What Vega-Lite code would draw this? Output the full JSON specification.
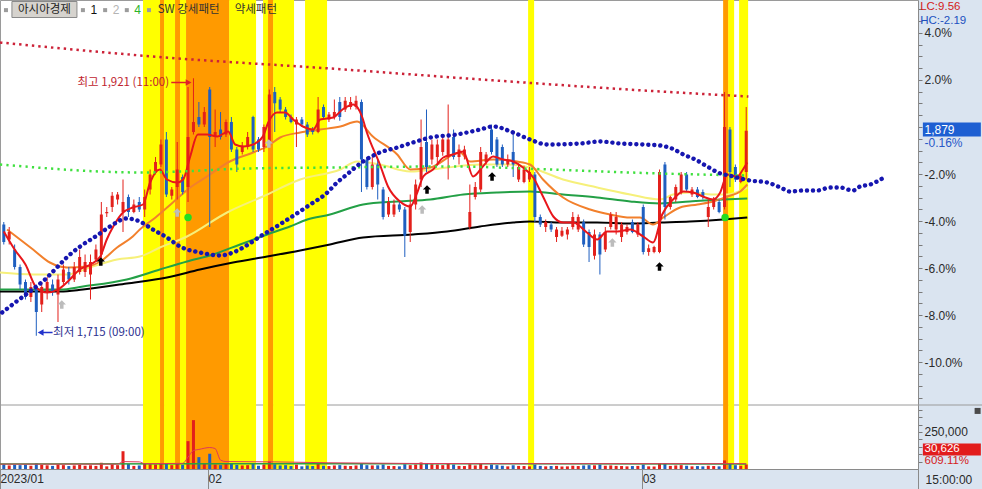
{
"$schema": "https://vega.github.io/schema/vega-lite/v6.json",
"autosize": {"type": "none"},
"width": 918, "height": 469,
"padding": {"left": 0, "top": 0, "right": 64, "bottom": 20},
"background": "#dae4f0",
"config": {"view": {"fill": "#ffffff", "stroke": "#9a9a9a", "strokeWidth": 1}},
"resolve": {"scale": {"y": "independent"}, "axis": {"x": "independent", "y": "independent"}},
"datasets": {
"candles": [
{"i":0,"o":1804,"h":1806,"l":1788,"c":1790,"v":32000},
{"i":1,"o":1792,"h":1802,"l":1788,"c":1798,"v":24000},
{"i":2,"o":1784,"h":1788,"l":1768,"c":1770,"v":28000},
{"i":3,"o":1770,"h":1772,"l":1752,"c":1756,"v":26000},
{"i":4,"o":1758,"h":1760,"l":1744,"c":1746,"v":30000},
{"i":5,"o":1746,"h":1758,"l":1742,"c":1754,"v":22000},
{"i":6,"o":1754,"h":1756,"l":1715,"c":1734,"v":38000},
{"i":7,"o":1740,"h":1758,"l":1734,"c":1754,"v":27000},
{"i":8,"o":1750,"h":1762,"l":1744,"c":1758,"v":25000},
{"i":9,"o":1756,"h":1760,"l":1747,"c":1750,"v":21000},
{"i":10,"o":1748,"h":1764,"l":1726,"c":1760,"v":31000},
{"i":11,"o":1758,"h":1772,"l":1756,"c":1768,"v":26000},
{"i":12,"o":1766,"h":1770,"l":1756,"c":1760,"v":20000},
{"i":13,"o":1760,"h":1774,"l":1758,"c":1770,"v":24000},
{"i":14,"o":1766,"h":1784,"l":1764,"c":1778,"v":28000},
{"i":15,"o":1766,"h":1780,"l":1762,"c":1774,"v":22000},
{"i":16,"o":1764,"h":1780,"l":1744,"c":1774,"v":25000},
{"i":17,"o":1776,"h":1788,"l":1774,"c":1784,"v":21000},
{"i":18,"o":1780,"h":1822,"l":1776,"c":1812,"v":42000},
{"i":19,"o":1813,"h":1818,"l":1810,"c":1814,"v":18000},
{"i":20,"o":1818,"h":1830,"l":1814,"c":1827,"v":32000},
{"i":21,"o":1824,"h":1830,"l":1820,"c":1828,"v":26000},
{"i":22,"o":1814,"h":1840,"l":1798,"c":1822,"v":120000},
{"i":23,"o":1826,"h":1828,"l":1810,"c":1814,"v":34000},
{"i":24,"o":1814,"h":1824,"l":1813,"c":1820,"v":21000},
{"i":25,"o":1822,"h":1826,"l":1814,"c":1816,"v":24000},
{"i":26,"o":1816,"h":1832,"l":1810,"c":1826,"v":38000},
{"i":27,"o":1832,"h":1848,"l":1828,"c":1844,"v":32000},
{"i":28,"o":1846,"h":1858,"l":1844,"c":1854,"v":30000},
{"i":29,"o":1852,"h":1872,"l":1850,"c":1868,"v":40000},
{"i":30,"o":1872,"h":1878,"l":1826,"c":1828,"v":36000},
{"i":31,"o":1827,"h":1834,"l":1824,"c":1832,"v":26000},
{"i":32,"o":1834,"h":1870,"l":1824,"c":1848,"v":34000},
{"i":33,"o":1842,"h":1844,"l":1828,"c":1830,"v":28000},
{"i":34,"o":1834,"h":1914,"l":1822,"c":1874,"v":188000},
{"i":35,"o":1878,"h":1921,"l":1876,"c":1886,"v":330000},
{"i":36,"o":1890,"h":1902,"l":1882,"c":1884,"v":80000},
{"i":37,"o":1884,"h":1898,"l":1882,"c":1894,"v":40000},
{"i":38,"o":1912,"h":1914,"l":1802,"c":1874,"v":103000},
{"i":39,"o":1874,"h":1896,"l":1866,"c":1878,"v":30000},
{"i":40,"o":1880,"h":1894,"l":1872,"c":1874,"v":26000},
{"i":41,"o":1876,"h":1888,"l":1874,"c":1886,"v":36000},
{"i":42,"o":1886,"h":1890,"l":1862,"c":1864,"v":34000},
{"i":43,"o":1864,"h":1866,"l":1846,"c":1852,"v":28000},
{"i":44,"o":1862,"h":1870,"l":1860,"c":1867,"v":24000},
{"i":45,"o":1866,"h":1878,"l":1864,"c":1874,"v":26000},
{"i":46,"o":1890,"h":1891,"l":1862,"c":1864,"v":36000},
{"i":47,"o":1872,"h":1874,"l":1862,"c":1864,"v":22000},
{"i":48,"o":1866,"h":1884,"l":1862,"c":1882,"v":30000},
{"i":49,"o":1870,"h":1912,"l":1868,"c":1908,"v":50000},
{"i":50,"o":1910,"h":1914,"l":1878,"c":1901,"v":32000},
{"i":51,"o":1904,"h":1906,"l":1894,"c":1896,"v":24000},
{"i":52,"o":1896,"h":1898,"l":1888,"c":1890,"v":26000},
{"i":53,"o":1890,"h":1892,"l":1885,"c":1886,"v":20000},
{"i":54,"o":1884,"h":1890,"l":1866,"c":1888,"v":30000},
{"i":55,"o":1888,"h":1890,"l":1882,"c":1884,"v":18000},
{"i":56,"o":1884,"h":1886,"l":1874,"c":1876,"v":24000},
{"i":57,"o":1880,"h":1882,"l":1876,"c":1878,"v":20000},
{"i":58,"o":1878,"h":1906,"l":1877,"c":1896,"v":34000},
{"i":59,"o":1898,"h":1900,"l":1889,"c":1890,"v":22000},
{"i":60,"o":1888,"h":1894,"l":1886,"c":1892,"v":20000},
{"i":61,"o":1890,"h":1904,"l":1888,"c":1894,"v":24000},
{"i":62,"o":1902,"h":1906,"l":1887,"c":1890,"v":26000},
{"i":63,"o":1896,"h":1906,"l":1894,"c":1903,"v":22000},
{"i":64,"o":1898,"h":1906,"l":1896,"c":1902,"v":20000},
{"i":65,"o":1898,"h":1907,"l":1896,"c":1903,"v":24000},
{"i":66,"o":1902,"h":1904,"l":1830,"c":1856,"v":40000},
{"i":67,"o":1856,"h":1858,"l":1832,"c":1834,"v":26000},
{"i":68,"o":1834,"h":1858,"l":1832,"c":1852,"v":24000},
{"i":69,"o":1852,"h":1856,"l":1824,"c":1836,"v":25000},
{"i":70,"o":1832,"h":1834,"l":1808,"c":1810,"v":30000},
{"i":71,"o":1812,"h":1826,"l":1810,"c":1822,"v":21000},
{"i":72,"o":1812,"h":1824,"l":1810,"c":1820,"v":20000},
{"i":73,"o":1820,"h":1822,"l":1814,"c":1816,"v":18000},
{"i":74,"o":1816,"h":1818,"l":1778,"c":1795,"v":32000},
{"i":75,"o":1798,"h":1828,"l":1790,"c":1820,"v":26000},
{"i":76,"o":1820,"h":1840,"l":1816,"c":1836,"v":30000},
{"i":77,"o":1840,"h":1888,"l":1834,"c":1866,"v":44000},
{"i":78,"o":1870,"h":1896,"l":1846,"c":1850,"v":38000},
{"i":79,"o":1856,"h":1872,"l":1852,"c":1868,"v":32000},
{"i":80,"o":1858,"h":1872,"l":1852,"c":1868,"v":30000},
{"i":81,"o":1862,"h":1876,"l":1859,"c":1872,"v":26000},
{"i":82,"o":1858,"h":1900,"l":1840,"c":1872,"v":36000},
{"i":83,"o":1874,"h":1880,"l":1856,"c":1858,"v":30000},
{"i":84,"o":1858,"h":1868,"l":1852,"c":1864,"v":21000},
{"i":85,"o":1860,"h":1867,"l":1856,"c":1864,"v":20000},
{"i":86,"o":1802,"h":1836,"l":1800,"c":1814,"v":32000},
{"i":87,"o":1826,"h":1838,"l":1824,"c":1834,"v":24000},
{"i":88,"o":1832,"h":1866,"l":1830,"c":1862,"v":38000},
{"i":89,"o":1854,"h":1862,"l":1852,"c":1860,"v":21000},
{"i":90,"o":1880,"h":1884,"l":1860,"c":1862,"v":30000},
{"i":91,"o":1872,"h":1874,"l":1850,"c":1852,"v":26000},
{"i":92,"o":1866,"h":1868,"l":1850,"c":1852,"v":22000},
{"i":93,"o":1852,"h":1860,"l":1850,"c":1856,"v":18000},
{"i":94,"o":1862,"h":1876,"l":1842,"c":1852,"v":25000},
{"i":95,"o":1840,"h":1852,"l":1838,"c":1850,"v":21000},
{"i":96,"o":1838,"h":1851,"l":1837,"c":1848,"v":20000},
{"i":97,"o":1840,"h":1850,"l":1838,"c":1846,"v":18000},
{"i":98,"o":1844,"h":1846,"l":1806,"c":1810,"v":30000},
{"i":99,"o":1810,"h":1812,"l":1802,"c":1804,"v":21000},
{"i":100,"o":1802,"h":1808,"l":1798,"c":1806,"v":18000},
{"i":101,"o":1804,"h":1806,"l":1798,"c":1800,"v":20000},
{"i":102,"o":1794,"h":1802,"l":1790,"c":1800,"v":21000},
{"i":103,"o":1795,"h":1802,"l":1794,"c":1799,"v":17000},
{"i":104,"o":1796,"h":1802,"l":1792,"c":1800,"v":18000},
{"i":105,"o":1802,"h":1814,"l":1800,"c":1810,"v":22000},
{"i":106,"o":1800,"h":1812,"l":1798,"c":1810,"v":20000},
{"i":107,"o":1806,"h":1808,"l":1786,"c":1788,"v":24000},
{"i":108,"o":1798,"h":1800,"l":1774,"c":1786,"v":26000},
{"i":109,"o":1779,"h":1800,"l":1776,"c":1796,"v":25000},
{"i":110,"o":1796,"h":1798,"l":1764,"c":1780,"v":30000},
{"i":111,"o":1784,"h":1802,"l":1782,"c":1798,"v":22000},
{"i":112,"o":1802,"h":1814,"l":1800,"c":1812,"v":24000},
{"i":113,"o":1800,"h":1814,"l":1796,"c":1810,"v":21000},
{"i":114,"o":1794,"h":1806,"l":1790,"c":1804,"v":20000},
{"i":115,"o":1798,"h":1804,"l":1796,"c":1802,"v":18000},
{"i":116,"o":1806,"h":1808,"l":1797,"c":1798,"v":20000},
{"i":117,"o":1796,"h":1806,"l":1794,"c":1804,"v":21000},
{"i":118,"o":1818,"h":1820,"l":1780,"c":1782,"v":30000},
{"i":119,"o":1782,"h":1788,"l":1779,"c":1785,"v":18000},
{"i":120,"o":1782,"h":1787,"l":1781,"c":1786,"v":17000},
{"i":121,"o":1782,"h":1848,"l":1781,"c":1846,"v":40000},
{"i":122,"o":1852,"h":1854,"l":1808,"c":1818,"v":36000},
{"i":123,"o":1818,"h":1827,"l":1816,"c":1826,"v":21000},
{"i":124,"o":1824,"h":1836,"l":1822,"c":1834,"v":24000},
{"i":125,"o":1830,"h":1846,"l":1828,"c":1844,"v":26000},
{"i":126,"o":1844,"h":1846,"l":1830,"c":1832,"v":22000},
{"i":127,"o":1828,"h":1834,"l":1826,"c":1832,"v":18000},
{"i":128,"o":1832,"h":1834,"l":1825,"c":1826,"v":20000},
{"i":129,"o":1830,"h":1832,"l":1824,"c":1826,"v":18000},
{"i":130,"o":1810,"h":1824,"l":1802,"c":1818,"v":22000},
{"i":131,"o":1818,"h":1826,"l":1816,"c":1824,"v":20000},
{"i":132,"o":1822,"h":1824,"l":1813,"c":1814,"v":18000},
{"i":133,"o":1818,"h":1910,"l":1816,"c":1882,"v":58000},
{"i":134,"o":1880,"h":1882,"l":1834,"c":1846,"v":40000},
{"i":135,"o":1850,"h":1852,"l":1838,"c":1840,"v":26000},
{"i":136,"o":1838,"h":1845,"l":1837,"c":1843,"v":22000},
{"i":137,"o":1846,"h":1898,"l":1840,"c":1879,"v":30626}
],
"bands": [
{"a":25.69,"b":28.83,"k":"강세"},{"a":28.83,"b":29.57,"k":"약세"},{"a":29.57,"b":31.6,"k":"강세"},{"a":31.6,"b":32.52,"k":"약세"},{"a":32.52,"b":33.63,"k":"강세"},{"a":33.63,"b":41.57,"k":"약세"},{"a":41.57,"b":46.55,"k":"강세"},{"a":47.84,"b":48.76,"k":"강세"},{"a":48.76,"b":49.69,"k":"약세"},{"a":49.69,"b":53.56,"k":"강세"},{"a":55.59,"b":59.65,"k":"강세"},{"a":96.75,"b":97.86,"k":"강세"},{"a":132.74,"b":133.66,"k":"약세"},{"a":133.66,"b":134.77,"k":"강세"},{"a":135.69,"b":137.35,"k":"강세"}
],
"lines": [
{"s":"MA5","i":0,"p":1798.4},{"s":"MA5","i":2,"p":1784},{"s":"MA5","i":4,"p":1772},{"s":"MA5","i":6,"p":1753.6},{"s":"MA5","i":8,"p":1749.6},{"s":"MA5","i":10,"p":1752},{"s":"MA5","i":12,"p":1759.2},{"s":"MA5","i":14,"p":1768},{"s":"MA5","i":16,"p":1772},{"s":"MA5","i":17.8,"p":1778.4},{"s":"MA5","i":19,"p":1792},{"s":"MA5","i":20.2,"p":1802.4},{"s":"MA5","i":22,"p":1813.6},{"s":"MA5","i":23.8,"p":1817.6},{"s":"MA5","i":25.7,"p":1820},{"s":"MA5","i":27,"p":1837.6},{"s":"MA5","i":28.8,"p":1848},{"s":"MA5","i":30.1,"p":1840},{"s":"MA5","i":32,"p":1837.6},{"s":"MA5","i":33.1,"p":1840},{"s":"MA5","i":34.4,"p":1858.4},{"s":"MA5","i":35.8,"p":1876},{"s":"MA5","i":37.5,"p":1876},{"s":"MA5","i":39.4,"p":1874.4},{"s":"MA5","i":41.4,"p":1878.4},{"s":"MA5","i":42.7,"p":1868},{"s":"MA5","i":44.2,"p":1866.4},{"s":"MA5","i":46,"p":1868},{"s":"MA5","i":47.8,"p":1874.4},{"s":"MA5","i":48.8,"p":1885.6},{"s":"MA5","i":50.4,"p":1893.6},{"s":"MA5","i":51.9,"p":1893.6},{"s":"MA5","i":53.4,"p":1888},{"s":"MA5","i":55.2,"p":1882.4},{"s":"MA5","i":57.1,"p":1880},{"s":"MA5","i":58.4,"p":1888},{"s":"MA5","i":60.8,"p":1889.6},{"s":"MA5","i":62.5,"p":1896},{"s":"MA5","i":64.5,"p":1900},{"s":"MA5","i":66.1,"p":1890.4},{"s":"MA5","i":67,"p":1877.6},{"s":"MA5","i":69.4,"p":1852},{"s":"MA5","i":70.9,"p":1834.4},{"s":"MA5","i":73.1,"p":1822.4},{"s":"MA5","i":75,"p":1818.4},{"s":"MA5","i":76.3,"p":1829.6},{"s":"MA5","i":77.4,"p":1842.4},{"s":"MA5","i":79.2,"p":1848},{"s":"MA5","i":81.1,"p":1857.6},{"s":"MA5","i":82.9,"p":1860},{"s":"MA5","i":84.8,"p":1862.4},{"s":"MA5","i":86.6,"p":1842.4},{"s":"MA5","i":88.4,"p":1850.4},{"s":"MA5","i":90.3,"p":1858.4},{"s":"MA5","i":92.1,"p":1856},{"s":"MA5","i":94,"p":1854.4},{"s":"MA5","i":95.8,"p":1849.6},{"s":"MA5","i":97.7,"p":1841.6},{"s":"MA5","i":99.5,"p":1826.4},{"s":"MA5","i":101.4,"p":1810.4},{"s":"MA5","i":103.2,"p":1805.6},{"s":"MA5","i":105.1,"p":1805.6},{"s":"MA5","i":107.6,"p":1797.6},{"s":"MA5","i":109.5,"p":1792},{"s":"MA5","i":111.3,"p":1798.4},{"s":"MA5","i":113.2,"p":1798.4},{"s":"MA5","i":115.6,"p":1800},{"s":"MA5","i":118,"p":1794.4},{"s":"MA5","i":119.8,"p":1789.6},{"s":"MA5","i":121.5,"p":1812},{"s":"MA5","i":123.5,"p":1824},{"s":"MA5","i":125.4,"p":1830.4},{"s":"MA5","i":127.2,"p":1829.6},{"s":"MA5","i":129,"p":1826.4},{"s":"MA5","i":130.9,"p":1824},{"s":"MA5","i":132.2,"p":1829.6},{"s":"MA5","i":133.5,"p":1844},{"s":"MA5","i":135.3,"p":1842.4},{"s":"MA5","i":136.4,"p":1848},{"s":"MA5","i":137.2,"p":1853.6},
{"s":"MA10","i":0.6,"p":1800},{"s":"MA10","i":5.4,"p":1784},{"s":"MA10","i":8.5,"p":1773.6},{"s":"MA10","i":11.7,"p":1769.6},{"s":"MA10","i":15.4,"p":1770.4},{"s":"MA10","i":17.8,"p":1774.4},{"s":"MA10","i":20.9,"p":1785.6},{"s":"MA10","i":23.8,"p":1794.4},{"s":"MA10","i":25.1,"p":1800},{"s":"MA10","i":28,"p":1809.6},{"s":"MA10","i":31.2,"p":1821.6},{"s":"MA10","i":34.4,"p":1833.6},{"s":"MA10","i":37.5,"p":1842.4},{"s":"MA10","i":41.7,"p":1854.4},{"s":"MA10","i":46,"p":1861.6},{"s":"MA10","i":48.6,"p":1866.4},{"s":"MA10","i":51,"p":1873.6},{"s":"MA10","i":54.7,"p":1877.6},{"s":"MA10","i":58.4,"p":1880},{"s":"MA10","i":62.1,"p":1882.4},{"s":"MA10","i":65.2,"p":1886.4},{"s":"MA10","i":68.1,"p":1874.4},{"s":"MA10","i":72.6,"p":1860},{"s":"MA10","i":75,"p":1848},{"s":"MA10","i":78.7,"p":1849.6},{"s":"MA10","i":84.2,"p":1861.6},{"s":"MA10","i":86,"p":1854.4},{"s":"MA10","i":90.3,"p":1856},{"s":"MA10","i":94.7,"p":1854.4},{"s":"MA10","i":97.1,"p":1852},{"s":"MA10","i":99.5,"p":1840},{"s":"MA10","i":103.2,"p":1825.6},{"s":"MA10","i":108.2,"p":1816},{"s":"MA10","i":111.9,"p":1812},{"s":"MA10","i":115.6,"p":1809.6},{"s":"MA10","i":117.4,"p":1809.6},{"s":"MA10","i":119.8,"p":1804},{"s":"MA10","i":121.7,"p":1809.6},{"s":"MA10","i":124.8,"p":1817.6},{"s":"MA10","i":128,"p":1820},{"s":"MA10","i":130.9,"p":1822.4},{"s":"MA10","i":133.5,"p":1826.4},{"s":"MA10","i":135.9,"p":1830.4},{"s":"MA10","i":137.2,"p":1836},
{"s":"MA20","i":-0.7,"p":1765.6},{"s":"MA20","i":5.4,"p":1764},{"s":"MA20","i":11.7,"p":1764},{"s":"MA20","i":15.9,"p":1769.6},{"s":"MA20","i":20.9,"p":1776},{"s":"MA20","i":25.1,"p":1778.4},{"s":"MA20","i":28.8,"p":1785.6},{"s":"MA20","i":33.8,"p":1794.4},{"s":"MA20","i":41.2,"p":1813.6},{"s":"MA20","i":47.8,"p":1826.4},{"s":"MA20","i":54.7,"p":1840},{"s":"MA20","i":62.1,"p":1848},{"s":"MA20","i":65.2,"p":1854.4},{"s":"MA20","i":69.4,"p":1852},{"s":"MA20","i":75,"p":1846.4},{"s":"MA20","i":81.8,"p":1849.6},{"s":"MA20","i":87.9,"p":1852},{"s":"MA20","i":92.9,"p":1852},{"s":"MA20","i":97.1,"p":1849.6},{"s":"MA20","i":103.2,"p":1840},{"s":"MA20","i":109.5,"p":1833.6},{"s":"MA20","i":115.6,"p":1828},{"s":"MA20","i":121.1,"p":1824},{"s":"MA20","i":123.5,"p":1828},{"s":"MA20","i":126.6,"p":1829.6},{"s":"MA20","i":130.9,"p":1828},{"s":"MA20","i":133.5,"p":1828},{"s":"MA20","i":137.2,"p":1833.6},
{"s":"MA60","i":-0.7,"p":1752},{"s":"MA60","i":10.4,"p":1752},{"s":"MA60","i":14.6,"p":1754.4},{"s":"MA60","i":22.7,"p":1760},{"s":"MA60","i":28.8,"p":1768},{"s":"MA60","i":33.8,"p":1774.4},{"s":"MA60","i":38.6,"p":1780},{"s":"MA60","i":43.6,"p":1788},{"s":"MA60","i":48.6,"p":1796},{"s":"MA60","i":52.8,"p":1802.4},{"s":"MA60","i":56,"p":1808},{"s":"MA60","i":60.2,"p":1812},{"s":"MA60","i":66.3,"p":1820},{"s":"MA60","i":72.6,"p":1822.4},{"s":"MA60","i":78.7,"p":1824},{"s":"MA60","i":84.8,"p":1828},{"s":"MA60","i":91,"p":1829.6},{"s":"MA60","i":97.1,"p":1830.4},{"s":"MA60","i":103.2,"p":1828},{"s":"MA60","i":109.5,"p":1825.6},{"s":"MA60","i":115.6,"p":1822.4},{"s":"MA60","i":121.1,"p":1820.8},{"s":"MA60","i":126.6,"p":1822.4},{"s":"MA60","i":132.7,"p":1824},{"s":"MA60","i":137.2,"p":1824.8},
{"s":"MA120","i":-0.7,"p":1750.4},{"s":"MA120","i":10.4,"p":1750.4},{"s":"MA120","i":14.6,"p":1752},{"s":"MA120","i":22.7,"p":1756.8},{"s":"MA120","i":30.1,"p":1761.6},{"s":"MA120","i":36.2,"p":1768},{"s":"MA120","i":42.3,"p":1773.6},{"s":"MA120","i":48.6,"p":1778.4},{"s":"MA120","i":54.7,"p":1783.2},{"s":"MA120","i":60.2,"p":1788},{"s":"MA120","i":66.3,"p":1793.6},{"s":"MA120","i":75.5,"p":1796},{"s":"MA120","i":81.8,"p":1798.4},{"s":"MA120","i":87.9,"p":1802.4},{"s":"MA120","i":94,"p":1805.6},{"s":"MA120","i":97.1,"p":1806.4},{"s":"MA120","i":103.2,"p":1805.6},{"s":"MA120","i":109.5,"p":1805.6},{"s":"MA120","i":115.6,"p":1804.8},{"s":"MA120","i":121.1,"p":1805.6},{"s":"MA120","i":126.6,"p":1806.4},{"s":"MA120","i":132.7,"p":1808},{"s":"MA120","i":137.2,"p":1809.6},
{"s":"span","i":-0.3,"p":1733.6},{"s":"span","i":2.1,"p":1741.6},{"s":"span","i":4.8,"p":1750.4},{"s":"span","i":7.6,"p":1760},{"s":"span","i":9.8,"p":1769.6},{"s":"span","i":11.8,"p":1778.4},{"s":"span","i":14.1,"p":1786.4},{"s":"span","i":17.2,"p":1795.2},{"s":"span","i":19.6,"p":1802.4},{"s":"span","i":22.7,"p":1808.8},{"s":"span","i":25.1,"p":1806.4},{"s":"span","i":27.5,"p":1800},{"s":"span","i":30.1,"p":1793.6},{"s":"span","i":32.5,"p":1786.4},{"s":"span","i":36.2,"p":1781.6},{"s":"span","i":39.9,"p":1779.2},{"s":"span","i":42.3,"p":1781.6},{"s":"span","i":44.5,"p":1786.4},{"s":"span","i":47.3,"p":1794.4},{"s":"span","i":51.5,"p":1805.6},{"s":"span","i":56,"p":1818.4},{"s":"span","i":59.7,"p":1829.6},{"s":"span","i":61.5,"p":1837.6},{"s":"span","i":63.3,"p":1844},{"s":"span","i":66.3,"p":1854.4},{"s":"span","i":69.4,"p":1861.6},{"s":"span","i":72.6,"p":1865.6},{"s":"span","i":75.5,"p":1869.6},{"s":"span","i":78.7,"p":1873.6},{"s":"span","i":83.6,"p":1876},{"s":"span","i":87.9,"p":1880},{"s":"span","i":90.3,"p":1882.4},{"s":"span","i":94,"p":1877.6},{"s":"span","i":97.1,"p":1872},{"s":"span","i":100.3,"p":1868},{"s":"span","i":106.4,"p":1868.8},{"s":"span","i":110,"p":1870.4},{"s":"span","i":113.7,"p":1868.8},{"s":"span","i":118,"p":1868},{"s":"span","i":121.1,"p":1867.2},{"s":"span","i":123.3,"p":1864.8},{"s":"span","i":125.4,"p":1860},{"s":"span","i":127.6,"p":1856},{"s":"span","i":129.8,"p":1850.4},{"s":"span","i":131.8,"p":1845.6},{"s":"span","i":134.6,"p":1842.4},{"s":"span","i":137.7,"p":1839.2},{"s":"span","i":140.9,"p":1837.6},{"s":"span","i":143.3,"p":1833.6},{"s":"span","i":145.1,"p":1830.4},{"s":"span","i":147.5,"p":1831.2},{"s":"span","i":150.1,"p":1831.2},{"s":"span","i":152.5,"p":1833.6},{"s":"span","i":154.3,"p":1833.6},{"s":"span","i":156.7,"p":1831.2},{"s":"span","i":158,"p":1834.4},{"s":"span","i":159.9,"p":1836},{"s":"span","i":162.1,"p":1840.8},
{"s":"upper","i":-0.7,"p":1949.6},{"s":"upper","i":29.8,"p":1937.6},{"s":"upper","i":60.2,"p":1928.8},{"s":"upper","i":90.7,"p":1919.2},{"s":"upper","i":121.1,"p":1910.4},{"s":"upper","i":137.4,"p":1906.4},
{"s":"mid","i":-0.7,"p":1852},{"s":"mid","i":25.7,"p":1845.6},{"s":"mid","i":45,"p":1848.8},{"s":"mid","i":60.2,"p":1849.6},{"s":"mid","i":82.3,"p":1850.4},{"s":"mid","i":100.8,"p":1848},{"s":"mid","i":121.1,"p":1844.8},{"s":"mid","i":137.4,"p":1843.2}
],
"vlines": [
{"s":"vma5","i":-0.7,"v":33000},{"s":"vma5","i":21,"v":33000},{"s":"vma5","i":22,"v":50000},{"s":"vma5","i":25,"v":48000},{"s":"vma5","i":26,"v":36000},{"s":"vma5","i":33,"v":38000},{"s":"vma5","i":34,"v":80000},{"s":"vma5","i":35,"v":125000},{"s":"vma5","i":36,"v":132000},{"s":"vma5","i":38,"v":145000},{"s":"vma5","i":39,"v":138000},{"s":"vma5","i":40,"v":60000},{"s":"vma5","i":41,"v":50000},{"s":"vma5","i":50,"v":48000},{"s":"vma5","i":60,"v":42000},{"s":"vma5","i":90,"v":36000},{"s":"vma5","i":137,"v":36000},
{"s":"vma20","i":-0.7,"v":34000},{"s":"vma20","i":40,"v":36000},{"s":"vma20","i":80,"v":35000},{"s":"vma20","i":137,"v":34000}
]
},
"encoding": {"x": {"field": "i", "type": "quantitative", "scale": {"domain": [-0.7, 168.7], "nice": false, "zero": false, "padding": 0}, "axis": null}},
"layer": [
{"data": {"values": [{"i": -0.7, "i2": 180.6, "v": 432000}]}, "mark": {"type": "rule", "color": "#9a9a9a", "strokeWidth": 1},
 "encoding": {"x2": {"field": "i2"}, "y": {"field": "v", "type": "quantitative", "scale": {"domain": [0, 432000], "range": [469, 405], "nice": false, "zero": false}, "axis": null}}},
{"data": {"name": "bands"}, "transform": [{"filter": "datum.k == '강세'"}], "mark": {"type": "rect", "color": "#ffff00"},
 "encoding": {"x": {"field": "a", "type": "quantitative", "scale": {"domain": [-0.7, 168.7], "nice": false, "zero": false, "padding": 0}, "axis": null}, "x2": {"field": "b"}}},
{"data": {"name": "bands"}, "transform": [{"filter": "datum.k == '약세'"}], "mark": {"type": "rect", "color": "#ff9a00"},
 "encoding": {"x": {"field": "a", "type": "quantitative", "scale": {"domain": [-0.7, 168.7], "nice": false, "zero": false, "padding": 0}, "axis": null}, "x2": {"field": "b"}}},
{"data": {"name": "lines"}, "transform": [{"filter": "datum.s == 'MA120'"}], "mark": {"type": "line", "color": "#000000", "strokeWidth": 2, "interpolate": "monotone"},
 "encoding": {"y": {"field": "p", "type": "quantitative", "scale": {"domain": [1659.6, 1983.6], "range": [405, 0], "nice": false, "zero": false}, "axis": null}}},
{"data": {"name": "lines"}, "transform": [{"filter": "datum.s == 'MA60'"}], "mark": {"type": "line", "color": "#23a046", "strokeWidth": 2, "interpolate": "monotone"},
 "encoding": {"y": {"field": "p", "type": "quantitative", "scale": {"domain": [1659.6, 1983.6], "range": [405, 0], "nice": false, "zero": false}, "axis": null}}},
{"data": {"name": "lines"}, "transform": [{"filter": "datum.s == 'MA20'"}], "mark": {"type": "line", "color": "#f6f07a", "strokeWidth": 2, "interpolate": "monotone"},
 "encoding": {"y": {"field": "p", "type": "quantitative", "scale": {"domain": [1659.6, 1983.6], "range": [405, 0], "nice": false, "zero": false}, "axis": null}}},
{"data": {"name": "lines"}, "transform": [{"filter": "datum.s == 'MA10'"}], "mark": {"type": "line", "color": "#f2802c", "strokeWidth": 2, "interpolate": "monotone"},
 "encoding": {"y": {"field": "p", "type": "quantitative", "scale": {"domain": [1659.6, 1983.6], "range": [405, 0], "nice": false, "zero": false}, "axis": null}}},
{"data": {"name": "candles"}, "mark": {"type": "rule", "strokeWidth": 1},
 "encoding": {
  "y": {"field": "l", "type": "quantitative", "scale": {"domain": [1659.6, 1983.6], "range": [405, 0], "nice": false, "zero": false},
   "axis": {"orient": "right", "title": null, "grid": false,
    "values": [1976.1,1966.69,1957.28,1947.87,1938.46,1929.05,1919.64,1910.23,1900.82,1891.41,1882,1872.59,1863.18,1853.77,1844.36,1834.95,1825.54,1816.13,1806.72,1797.31,1787.9,1778.49,1769.08,1759.67,1750.26,1740.85,1731.44,1722.03,1712.62,1703.21,1693.8,1684.39,1674.98,1665.57],
    "labelExpr": "(abs(datum.value/18.82-100-round(datum.value/18.82-100))<0.05 && round(datum.value/18.82-100)%2==0 && round(datum.value/18.82-100)!=0) ? ((datum.value<1882?'-':'')+format(abs(datum.value/18.82-100),'.1f')+'%') : ''",
    "tickSize": 4, "tickColor": "#7a7a7a", "domainColor": "#8a8a8a", "labelColor": "#2a2a2a", "labelFont": "Liberation Sans", "labelFontSize": 12, "labelPadding": 2,
    "labelOverlap": false, "labelFlush": false, "labelBound": false}},
  "y2": {"field": "h"},
  "color": {"condition": {"test": "datum.c >= datum.o", "value": "#e3201b"}, "value": "#1f5fc0"}}},
{"data": {"name": "candles"}, "mark": {"type": "bar", "size": 3},
 "encoding": {
  "y": {"field": "o", "type": "quantitative", "scale": {"domain": [1659.6, 1983.6], "range": [405, 0], "nice": false, "zero": false}, "axis": null},
  "y2": {"field": "c"},
  "color": {"condition": {"test": "datum.c >= datum.o", "value": "#e3201b"}, "value": "#1f5fc0"}}},
{"data": {"name": "lines"}, "transform": [{"filter": "datum.s == 'MA5'"}], "mark": {"type": "line", "color": "#e8161b", "strokeWidth": 2, "interpolate": "monotone"},
 "encoding": {"y": {"field": "p", "type": "quantitative", "scale": {"domain": [1659.6, 1983.6], "range": [405, 0], "nice": false, "zero": false}, "axis": null}}},
{"data": {"name": "lines"}, "transform": [{"filter": "datum.s == 'mid'"}], "mark": {"type": "line", "color": "#40e040", "strokeWidth": 2.5, "strokeDash": [2.2, 4.2], "interpolate": "monotone"},
 "encoding": {"y": {"field": "p", "type": "quantitative", "scale": {"domain": [1659.6, 1983.6], "range": [405, 0], "nice": false, "zero": false}, "axis": null}}},
{"data": {"name": "lines"}, "transform": [{"filter": "datum.s == 'upper'"}], "mark": {"type": "line", "color": "#cc2238", "strokeWidth": 2.5, "strokeDash": [2.4, 4], "interpolate": "monotone"},
 "encoding": {"y": {"field": "p", "type": "quantitative", "scale": {"domain": [1659.6, 1983.6], "range": [405, 0], "nice": false, "zero": false}, "axis": null}}},
{"data": {"name": "lines"}, "transform": [{"filter": "datum.s == 'span'"}], "mark": {"type": "line", "color": "#1616b0", "strokeWidth": 4.4, "strokeCap": "round", "strokeDash": [0.1, 5.9], "interpolate": "monotone"},
 "encoding": {"y": {"field": "p", "type": "quantitative", "scale": {"domain": [1659.6, 1983.6], "range": [405, 0], "nice": false, "zero": false}, "axis": null}}},
{"data": {"values": [{"i":17.9,"p":1774.4},{"i":78.1,"p":1832},{"i":90.1,"p":1842.4},{"i":121,"p":1770.4}]},
 "mark": {"type": "point", "shape": "M0,-1L1,0L0.42,0L0.42,1L-0.42,1L-0.42,0L-1,0Z", "filled": true, "color": "#000000", "size": 70, "opacity": 1},
 "encoding": {"y": {"field": "p", "type": "quantitative", "scale": {"domain": [1659.6, 1983.6], "range": [405, 0], "nice": false, "zero": false}, "axis": null}}},
{"data": {"values": [{"i":10.7,"p":1740},{"i":32,"p":1813.6},{"i":48.9,"p":1868.8},{"i":77.2,"p":1816},{"i":112.3,"p":1789.6}]},
 "mark": {"type": "point", "shape": "M0,-1L1,0L0.42,0L0.42,1L-0.42,1L-0.42,0L-1,0Z", "filled": true, "color": "#bcbcbc", "size": 70, "opacity": 1},
 "encoding": {"y": {"field": "p", "type": "quantitative", "scale": {"domain": [1659.6, 1983.6], "range": [405, 0], "nice": false, "zero": false}, "axis": null}}},
{"data": {"values": [{"i":34,"p":1809.6},{"i":133.1,"p":1809.6}]},
 "mark": {"type": "point", "shape": "circle", "filled": true, "color": "#22dd22", "size": 55, "opacity": 1},
 "encoding": {"y": {"field": "p", "type": "quantitative", "scale": {"domain": [1659.6, 1983.6], "range": [405, 0], "nice": false, "zero": false}, "axis": null}}},
{"data": {"values": [{"i":30.9,"i2":33.9,"p":1917.6}]}, "mark": {"type": "rule", "color": "#e0202a", "strokeWidth": 1.5},
 "encoding": {"x2": {"field": "i2"}, "y": {"field": "p", "type": "quantitative", "scale": {"domain": [1659.6, 1983.6], "range": [405, 0], "nice": false, "zero": false}, "axis": null}}},
{"data": {"values": [{"i":34.1,"p":1917.6}]}, "mark": {"type": "point", "shape": "triangle-right", "filled": true, "color": "#e0202a", "size": 45, "opacity": 1},
 "encoding": {"y": {"field": "p", "type": "quantitative", "scale": {"domain": [1659.6, 1983.6], "range": [405, 0], "nice": false, "zero": false}, "axis": null}}},
{"data": {"values": [{"i":30.5,"p":1917.6,"t":"최고 1,921 (11:00)"}]}, "mark": {"type": "text", "align": "right", "baseline": "middle", "font": "Noto Sans CJK KR", "fontSize": 11.5, "color": "#c0242f"},
 "encoding": {"y": {"field": "p", "type": "quantitative", "scale": {"domain": [1659.6, 1983.6], "range": [405, 0], "nice": false, "zero": false}, "axis": null}, "text": {"field": "t"}}},
{"data": {"values": [{"i":6.9,"i2":9.0,"p":1717.6}]}, "mark": {"type": "rule", "color": "#2233cc", "strokeWidth": 1.5},
 "encoding": {"x2": {"field": "i2"}, "y": {"field": "p", "type": "quantitative", "scale": {"domain": [1659.6, 1983.6], "range": [405, 0], "nice": false, "zero": false}, "axis": null}}},
{"data": {"values": [{"i":6.8,"p":1717.6}]}, "mark": {"type": "point", "shape": "triangle-left", "filled": true, "color": "#2233cc", "size": 45, "opacity": 1},
 "encoding": {"y": {"field": "p", "type": "quantitative", "scale": {"domain": [1659.6, 1983.6], "range": [405, 0], "nice": false, "zero": false}, "axis": null}}},
{"data": {"values": [{"i":9.1,"p":1717.6,"t":"최저 1,715 (09:00)"}]}, "mark": {"type": "text", "align": "left", "baseline": "middle", "font": "Noto Sans CJK KR", "fontSize": 11.5, "color": "#2c3090"},
 "encoding": {"y": {"field": "p", "type": "quantitative", "scale": {"domain": [1659.6, 1983.6], "range": [405, 0], "nice": false, "zero": false}, "axis": null}, "text": {"field": "t"}}},
{"data": {"values": [{"i":1.5,"i2":13.5,"p":1982.4,"p2":1969.6}]}, "mark": {"type": "rect", "fill": "#d6d3ce", "stroke": "#8a8a8a", "strokeWidth": 1},
 "encoding": {"x2": {"field": "i2"}, "y": {"field": "p", "type": "quantitative", "scale": {"domain": [1659.6, 1983.6], "range": [405, 0], "nice": false, "zero": false}, "axis": null}, "y2": {"field": "p2"}}},
{"data": {"values": [{"i":0.4,"p":1975.5},{"i":14.6,"p":1975.5},{"i":18.7,"p":1975.5},{"i":22.7,"p":1975.5},{"i":26.8,"p":1975.5}]},
 "mark": {"type": "point", "shape": "square", "filled": true, "color": "#9c9c9c", "size": 16, "opacity": 1},
 "encoding": {"y": {"field": "p", "type": "quantitative", "scale": {"domain": [1659.6, 1983.6], "range": [405, 0], "nice": false, "zero": false}, "axis": null}}},
{"data": {"values": [{"i":7.5,"p":1976,"t":"아시아경제"}]}, "mark": {"type": "text", "align": "center", "baseline": "middle", "font": "Noto Sans CJK KR", "fontSize": 11.5, "color": "#222222"},
 "encoding": {"y": {"field": "p", "type": "quantitative", "scale": {"domain": [1659.6, 1983.6], "range": [405, 0], "nice": false, "zero": false}, "axis": null}, "text": {"field": "t"}}},
{"data": {"values": [{"i":16.6,"p":1976,"t":"1"}]}, "mark": {"type": "text", "align": "center", "baseline": "middle", "font": "Liberation Sans", "fontSize": 12, "color": "#111111"},
 "encoding": {"y": {"field": "p", "type": "quantitative", "scale": {"domain": [1659.6, 1983.6], "range": [405, 0], "nice": false, "zero": false}, "axis": null}, "text": {"field": "t"}}},
{"data": {"values": [{"i":20.7,"p":1976,"t":"2"}]}, "mark": {"type": "text", "align": "center", "baseline": "middle", "font": "Liberation Sans", "fontSize": 12, "color": "#b4b4b4"},
 "encoding": {"y": {"field": "p", "type": "quantitative", "scale": {"domain": [1659.6, 1983.6], "range": [405, 0], "nice": false, "zero": false}, "axis": null}, "text": {"field": "t"}}},
{"data": {"values": [{"i":24.7,"p":1976,"t":"4"}]}, "mark": {"type": "text", "align": "center", "baseline": "middle", "font": "Liberation Sans", "fontSize": 12, "color": "#2ab42a"},
 "encoding": {"y": {"field": "p", "type": "quantitative", "scale": {"domain": [1659.6, 1983.6], "range": [405, 0], "nice": false, "zero": false}, "axis": null}, "text": {"field": "t"}}},
{"data": {"values": [{"i":28.4,"p":1976,"t":"SW 강세패턴"},{"i":42.6,"p":1976,"t":"약세패턴"}]}, "mark": {"type": "text", "align": "left", "baseline": "middle", "font": "Noto Sans CJK KR", "fontSize": 11.5, "color": "#333333"},
 "encoding": {"y": {"field": "p", "type": "quantitative", "scale": {"domain": [1659.6, 1983.6], "range": [405, 0], "nice": false, "zero": false}, "axis": null}, "text": {"field": "t"}}},
{"data": {"values": [{"i":169.1,"p":1978,"t":"LC:9.56"}]}, "mark": {"type": "text", "align": "left", "baseline": "middle", "font": "Liberation Sans", "fontSize": 11.5, "color": "#d42020"},
 "encoding": {"y": {"field": "p", "type": "quantitative", "scale": {"domain": [1659.6, 1983.6], "range": [405, 0], "nice": false, "zero": false}, "axis": null}, "text": {"field": "t"}}},
{"data": {"values": [{"i":169.1,"p":1966.8,"t":"HC:-2.19"}]}, "mark": {"type": "text", "align": "left", "baseline": "middle", "font": "Liberation Sans", "fontSize": 11.5, "color": "#2050c0"},
 "encoding": {"y": {"field": "p", "type": "quantitative", "scale": {"domain": [1659.6, 1983.6], "range": [405, 0], "nice": false, "zero": false}, "axis": null}, "text": {"field": "t"}}},
{"data": {"values": [{"i":169.6,"i2":180.3,"p":1885.6,"p2":1874.4}]}, "mark": {"type": "rect", "fill": "#1e5fd2"},
 "encoding": {"x2": {"field": "i2"}, "y": {"field": "p", "type": "quantitative", "scale": {"domain": [1659.6, 1983.6], "range": [405, 0], "nice": false, "zero": false}, "axis": null}, "y2": {"field": "p2"}}},
{"data": {"values": [{"i":169.9,"p":1880,"t":"1,879"}]}, "mark": {"type": "text", "align": "left", "baseline": "middle", "font": "Liberation Sans", "fontSize": 12, "color": "#ffffff"},
 "encoding": {"y": {"field": "p", "type": "quantitative", "scale": {"domain": [1659.6, 1983.6], "range": [405, 0], "nice": false, "zero": false}, "axis": null}, "text": {"field": "t"}}},
{"data": {"values": [{"i":169.9,"p":1869.6,"t":"-0.16%"}]}, "mark": {"type": "text", "align": "left", "baseline": "middle", "font": "Liberation Sans", "fontSize": 12, "color": "#2858c8"},
 "encoding": {"y": {"field": "p", "type": "quantitative", "scale": {"domain": [1659.6, 1983.6], "range": [405, 0], "nice": false, "zero": false}, "axis": null}, "text": {"field": "t"}}},
{"data": {"name": "candles"}, "mark": {"type": "bar", "size": 3},
 "encoding": {
  "x": {"field": "i", "type": "quantitative", "scale": {"domain": [-0.7, 168.7], "nice": false, "zero": false, "padding": 0},
   "axis": {"orient": "bottom", "title": null, "grid": false, "values": [-0.7, 37.69, 117.8, 168.7],
    "labelExpr": "datum.value < 10 ? '2023/01' : (datum.value < 60 ? '02' : (datum.value < 150 ? '03' : ''))",
    "tickSize": 20, "tickColor": "#8a8a8a", "domainColor": "#8a8a8a", "labelAlign": "left", "labelBaseline": "top", "labelPadding": -16, "labelDx": 2,
    "labelFont": "Liberation Sans", "labelFontSize": 12, "labelColor": "#2a2a2a", "labelOverlap": false, "labelFlush": false, "labelBound": false}},
  "y": {"field": "v", "type": "quantitative", "scale": {"domain": [0, 432000], "range": [469, 405], "nice": false, "zero": false},
   "axis": {"orient": "right", "title": null, "grid": false, "values": [50000,100000,150000,200000,250000,300000,350000,400000],
    "labelExpr": "datum.value == 250000 ? '250,000' : ''",
    "tickSize": 4, "tickColor": "#7a7a7a", "domainColor": "#8a8a8a", "labelColor": "#2a2a2a", "labelFont": "Liberation Sans", "labelFontSize": 12, "labelPadding": 2,
    "labelOverlap": false, "labelFlush": false, "labelBound": false}},
  "color": {"condition": {"test": "datum.c >= datum.o", "value": "#e3201b"}, "value": "#1f5fc0"}}},
{"data": {"name": "vlines"}, "transform": [{"filter": "datum.s == 'vma20'"}], "mark": {"type": "line", "color": "#2aa040", "strokeWidth": 1.5},
 "encoding": {"y": {"field": "v", "type": "quantitative", "scale": {"domain": [0, 432000], "range": [469, 405], "nice": false, "zero": false}, "axis": null}}},
{"data": {"name": "vlines"}, "transform": [{"filter": "datum.s == 'vma5'"}], "mark": {"type": "line", "color": "#e0385a", "strokeWidth": 1, "interpolate": "monotone"},
 "encoding": {"y": {"field": "v", "type": "quantitative", "scale": {"domain": [0, 432000], "range": [469, 405], "nice": false, "zero": false}, "axis": null}}},
{"data": {"values": [{"i":169.6,"i2":180.3,"v":172000,"v2":91000}]}, "mark": {"type": "rect", "fill": "#e21c1c"},
 "encoding": {"x2": {"field": "i2"}, "y": {"field": "v", "type": "quantitative", "scale": {"domain": [0, 432000], "range": [469, 405], "nice": false, "zero": false}, "axis": null}, "y2": {"field": "v2"}}},
{"data": {"values": [{"i":169.9,"v":134000,"t":"30,626"}]}, "mark": {"type": "text", "align": "left", "baseline": "middle", "font": "Liberation Sans", "fontSize": 11.5, "color": "#ffffff"},
 "encoding": {"y": {"field": "v", "type": "quantitative", "scale": {"domain": [0, 432000], "range": [469, 405], "nice": false, "zero": false}, "axis": null}, "text": {"field": "t"}}},
{"data": {"values": [{"i":169.9,"v":52000,"t":"609.11%"}]}, "mark": {"type": "text", "align": "left", "baseline": "middle", "font": "Liberation Sans", "fontSize": 11.5, "color": "#d42020"},
 "encoding": {"y": {"field": "v", "type": "quantitative", "scale": {"domain": [0, 432000], "range": [469, 405], "nice": false, "zero": false}, "axis": null}, "text": {"field": "t"}}},
{"data": {"values": [{"i":170.1,"v":-71000,"t":"15:00:00"}]}, "mark": {"type": "text", "align": "left", "baseline": "middle", "font": "Liberation Sans", "fontSize": 12, "color": "#2a2a2a"},
 "encoding": {"y": {"field": "v", "type": "quantitative", "scale": {"domain": [0, 432000], "range": [469, 405], "nice": false, "zero": false}, "axis": null}, "text": {"field": "t"}}},
{"data": {"values": [{"i":179.7,"v":392000}]}, "mark": {"type": "point", "shape": "square", "filled": true, "color": "#4a4a4a", "size": 36, "opacity": 1},
 "encoding": {"y": {"field": "v", "type": "quantitative", "scale": {"domain": [0, 432000], "range": [469, 405], "nice": false, "zero": false}, "axis": null}}}
]
}
